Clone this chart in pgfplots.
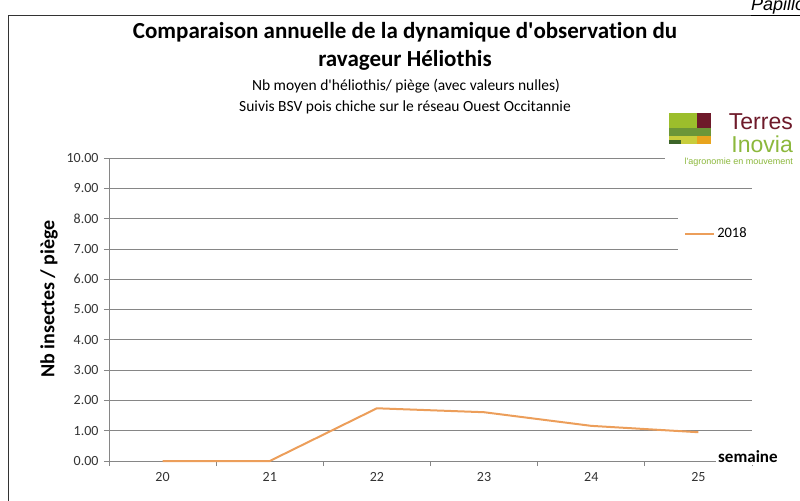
\documentclass[border=0pt]{standalone}
\usepackage{pgfplots}
\pgfplotsset{compat=1.18}
\usepackage{fontspec}
\setmainfont{Carlito}[Ligatures={NoCommon}]
\newfontfamily\arialfont{Liberation Sans}
\definecolor{lineor}{RGB}{236,158,90}
\definecolor{gridg}{RGB}{134,134,134}
\definecolor{tr}{RGB}{110,26,42}
\definecolor{ig}{RGB}{140,184,60}
\definecolor{lime}{RGB}{156,190,44}
\definecolor{midg}{RGB}{108,150,56}
\definecolor{yel}{RGB}{200,205,60}
\definecolor{ora}{RGB}{232,164,30}
\definecolor{dkg}{RGB}{60,100,40}
\begin{document}
\begin{tikzpicture}
\path[use as bounding box] (0,0) rectangle (800bp,-501bp);
\begin{axis}[
  at={(109bp,-461bp)}, anchor=south west,
  scale only axis, width=643bp, height=303bp,
  xmin=19.5, xmax=25.5, ymin=0, ymax=10,
  axis x line*=bottom, axis y line*=left,
  axis line style={draw=gridg, line width=0.8bp},
  xtick={20,21,22,23,24,25},
  minor xtick={19.5,20.5,...,25.5},
  major x tick style={draw=none},
  minor x tick style={draw=gridg, line width=0.8bp},
  minor tick length=5bp,
  ytick={0,1,...,10},
  major tick length=5bp,
  tick align=outside,
  y tick style={draw=gridg, line width=0.8bp},
  ymajorgrids, grid style={draw=gridg, line width=0.8bp},
  yticklabel={\pgfmathprintnumber[fixed,fixed zerofill,precision=2]{\tick}},
  /pgf/number format/assume math mode=true,
  tick label style={font=\fontsize{14bp}{16bp}\selectfont, text=black!80},
  xticklabel style={yshift=-3bp},
  yticklabel style={xshift=-2bp},
  clip=false,
  legend style={draw=none, fill=white, at={(0.885,0.75)}, anchor=west,
    inner xsep=6bp, inner ysep=14bp, font=\fontsize{14.5bp}{16bp}\selectfont,
    legend cell align=left},
  legend image code/.code={\draw[#1] (0bp,0bp) -- (29bp,0bp);},
]
\addplot[lineor, line width=2bp] coordinates {(20,0) (21,0) (22,1.74) (23,1.61) (24,1.16) (25,0.95)};
\addlegendentry{2018}
\end{axis}
% frame
\draw[black!80, line width=1bp] (8bp,-501bp) -- (8bp,-15bp) -- (801bp,-15bp);
% Papillons
\node[anchor=base west, inner sep=0pt] at (751bp,-10.5bp) {\arialfont\itshape\fontsize{18bp}{20bp}\selectfont\underline{Papillons}};
% titles
\node[font=\bfseries\fontsize{23bp}{27bp}\selectfont] at (405bp,-32bp) {Comparaison annuelle de la dynamique d\textquotesingle observation du};
\node[font=\bfseries\fontsize{23bp}{27bp}\selectfont] at (405bp,-60bp) {ravageur Héliothis};
\node[font=\fontsize{15.5bp}{18bp}\selectfont] at (406bp,-86bp) {Nb moyen d\textquotesingle héliothis/ piège (avec valeurs nulles)};
\node[font=\fontsize{15.5bp}{18bp}\selectfont] at (405bp,-107bp) {Suivis BSV pois chiche sur le réseau Ouest Occitannie};
% y label
\node[rotate=90, font=\bfseries\fontsize{20bp}{23bp}\selectfont] at (49bp,-299bp) {Nb insectes / piège};
% semaine
\node[anchor=west, fill=white, inner sep=2bp, font=\bfseries\fontsize{17bp}{19bp}\selectfont] at (716bp,-457bp) {semaine};
% logo
\fill[white] (665bp,-104bp) rectangle (800bp,-168bp);
\fill[lime] (669bp,-113bp) rectangle (697bp,-128bp);
\fill[tr] (697bp,-113bp) rectangle (711bp,-128bp);
\fill[midg] (669bp,-128bp) rectangle (711bp,-136bp);
\fill[yel] (669bp,-136bp) rectangle (697bp,-144bp);
\fill[ora] (697bp,-136bp) rectangle (711bp,-144bp);
\fill[dkg] (669bp,-140bp) rectangle (681bp,-144bp);
\node[anchor=base east, inner sep=0pt, text=tr, font=\arialfont\fontsize{23bp}{26bp}\selectfont] at (793bp,-129bp) {Terres};
\node[anchor=base east, inner sep=0pt, text=ig, font=\arialfont\fontsize{23bp}{26bp}\selectfont] at (793bp,-152bp) {Inovia};
\node[anchor=base east, inner sep=0pt, text=ig, font=\arialfont\fontsize{9bp}{10bp}\selectfont] at (793bp,-164bp) {l\textquotesingle agronomie en mouvement};
\end{tikzpicture}
\end{document}
